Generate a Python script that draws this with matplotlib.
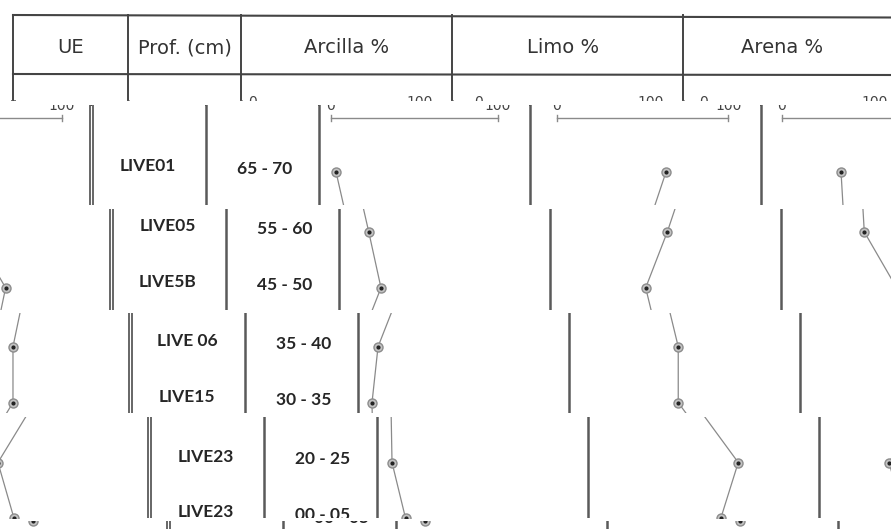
import numpy as np
import matplotlib
matplotlib.use("Agg")
import matplotlib.pyplot as plt

plt.rcParams['font.family'] = ['Lato', 'DejaVu Sans']

# data
ue = ["LIVE01", "LIVE05", "LIVE5B", "LIVE 06", "LIVE15", "LIVE23", "LIVE23"]
prof = ["65 - 70", "55 - 60", "45 - 50", "35 - 40", "30 - 35", "20 - 25", "00 - 05"]
arcilla = [3.3, 10.9, 18.2, 5.1, 1.5, 2.1, 10.2]
limo = [63.7, 52.8, 40.2, 48.1, 48.1, 72.0, 61.8]
arena = [34.7, 36.6, 55.5, 48.7, 48.7, 28.8, 38.2]
headers = ["UE", "Prof. (cm)", "Arcilla %", "Limo %", "Arena %"]

W, H = 891, 529
# table layout (pixels of the unshifted table)
col_lines = [13.3, 128.3, 241, 451.7, 683.3]
header_x = [71, 185, 347, 563, 782]
axes_x = [(252.5, 420), (478.7, 650.3), (703.7, 874.7)]
first_row, row_step = 168, 55.9
row_y = first_row + row_step * np.arange(len(ue))

# the picture is cut in horizontal strips, each slid sideways (and wrapped)
strips = [(0, 101, 0), (105, 205, 78), (209, 310, 98),
          (313, 413, 117), (417, 518, 136), (521, 529, 155)]

LINE = '#5a5a5a'
GREY = '#8a8a8a'
TXT = '#262626'


def draw_table(ax, dx, ylo, yhi):
    def put_text(x, y, s, **kw):
        # only texts that can land inside this strip
        if -80 < x < W + 80 and ylo - 14 < y < yhi + 14:
            ax.text(x, y, s, ha='center', va='center', clip_on=True, **kw)

    # header
    ax.plot([13 + dx, W + dx], [15, 17.5], color='#444', lw=1.5)
    ax.plot([13 + dx, W + dx], [74, 75], color='#444', lw=1.5)
    for x in col_lines:
        ax.plot([x + dx, x + dx], [15, 101], color='#444', lw=1.4)
    for x, h in zip(header_x, headers):
        put_text(x + dx, 47.5, h, fontsize=14, color='#333',
                 family='DejaVu Sans')
    # scales
    for x0, x1 in axes_x:
        put_text(x0 + dx, 102, "0", fontsize=10, color='#444',
                 family='DejaVu Sans')
        put_text(x1 + dx, 102, "100", fontsize=10, color='#444',
                 family='DejaVu Sans')
        ax.plot([x0 + dx, x1 + dx], [114, 114], color=GREY, lw=1)
        for x in (x0, x1):
            ax.plot([x + dx, x + dx], [111, 117.5], color=GREY, lw=1)
    # body lines
    for x in (11.8, 14.8):
        ax.plot([x + dx, x + dx], [101, 560], color=LINE, lw=1.3)
    for x in col_lines[1:]:
        ax.plot([x + dx, x + dx], [101, 560], color=LINE, lw=1.8)
    for y, a, b in zip(row_y, ue, prof):
        put_text(70 + dx, y - 6, a, fontsize=12.5, fontweight='bold',
                 color=TXT)
        put_text(186.5 + dx, y - 3, b, fontsize=12.5, fontweight='bold',
                 color=TXT)
    # profiles
    for (x0, x1), vals in zip(axes_x, [arcilla, limo, arena]):
        xs = x0 + np.array(vals) / 100 * (x1 - x0) + dx
        ax.plot(xs, row_y, color=GREY, lw=0.9)
        ax.plot(xs, row_y, 'o', ms=6.5, mfc='#c4c4c4', mec='#8c8c8c', mew=1)
        ax.plot(xs, row_y, 'o', ms=2, color='#222')


fig = plt.figure(figsize=(W / 100, H / 100), dpi=100)
t0 = 0
for top, bottom, off in strips:
    h = bottom - top
    ax = fig.add_axes([0, 1 - bottom / H, 1, h / H])
    ax.set_xlim(0, W)
    ax.set_ylim(t0 + h, t0)
    ax.axis('off')
    draw_table(ax, off, t0, t0 + h)
    if off > 0:
        draw_table(ax, off - W, t0, t0 + h)
    t0 += h

fig.savefig("out.png", dpi=100, facecolor='white')
